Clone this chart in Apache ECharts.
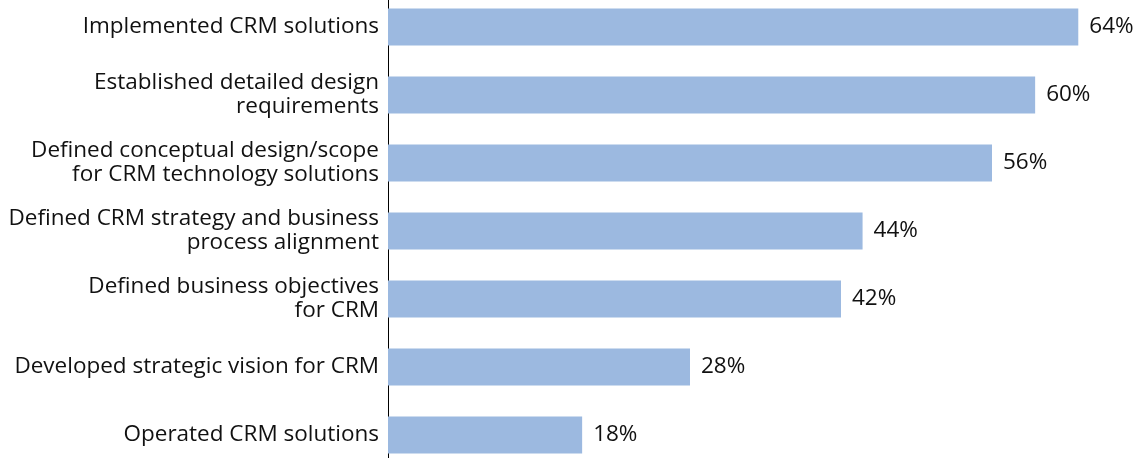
<!DOCTYPE html>
<html lang="en">
<head>
    <meta charset="UTF-8">
    <title>CRM</title>
    <script src="https://cdn.jsdelivr.net/npm/echarts@6/dist/echarts.min.js"></script>
</head>
<body style="margin:0">
    <div id="main" style="width:1141px;height:458px;"></div>
    <script type="text/javascript">
        // categories from top to bottom
        var categories = [
            'Implemented CRM solutions',
            'Established detailed design\nrequirements',
            'Defined conceptual design/scope\nfor CRM technology solutions',
            'Defined CRM strategy and business\nprocess alignment',
            'Defined business objectives\nfor CRM',
            'Developed strategic vision for CRM',
            'Operated CRM solutions'
        ];
        var values = [64, 60, 56, 44, 42, 28, 18];

        var myChart = echarts.init(document.getElementById('main'));

        var option = {
            animation: false,
            textStyle: { fontFamily: 'Open Sans' },
            grid: { left: 388, width: 755, top: -7, height: 476, outerBoundsMode: 'none', containLabel: false },
            xAxis: {
                type: 'value',
                min: 0,
                max: 70,
                show: false
            },
            yAxis: {
                type: 'category',
                inverse: true,
                data: categories,
                axisLine: { lineStyle: { color: '#000', width: 1 } },
                axisTick: { show: false },
                axisLabel: {
                    margin: 9,
                    fontSize: 22.5,
                    lineHeight: 24,
                    color: '#111',
                    fontFamily: 'Open Sans'
                }
            },
            series: [{
                type: 'bar',
                data: values,
                barWidth: 37,
                itemStyle: { color: '#9cb9e0' },
                label: {
                    show: true,
                    position: 'right',
                    distance: 11,
                    formatter: '{c}%',
                    fontSize: 22.5,
                    color: '#111',
                    fontFamily: 'Open Sans'
                }
            }]
        };

        myChart.setOption(option);
    </script>
</body>
</html>
